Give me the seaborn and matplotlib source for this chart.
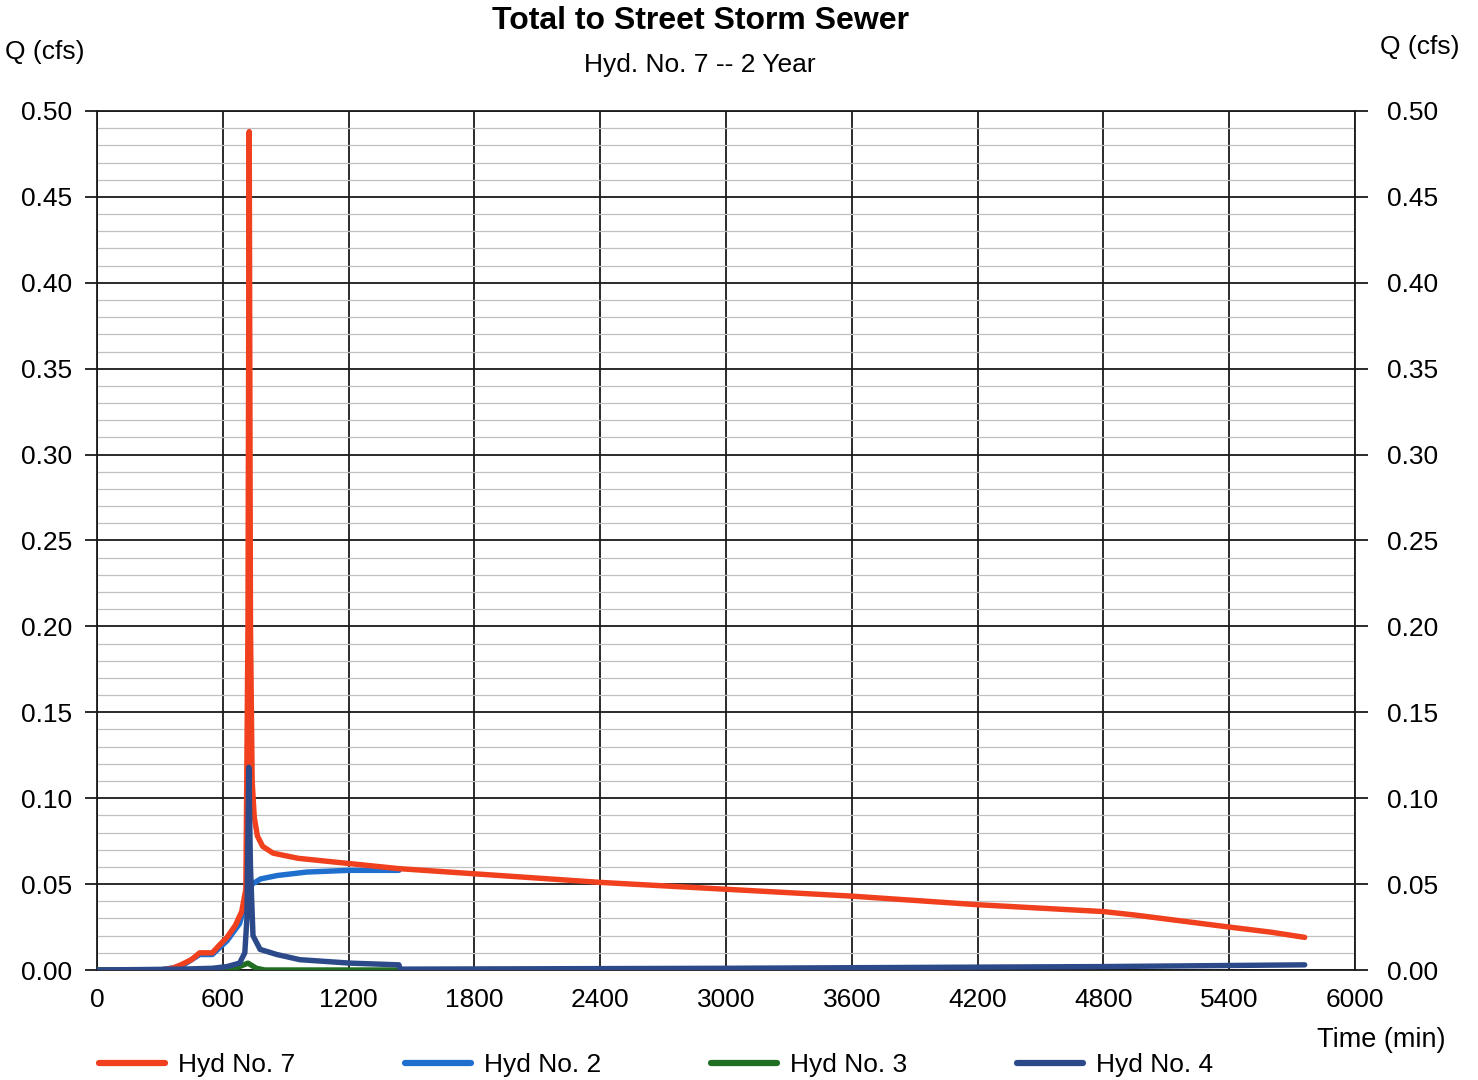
import numpy as np
import pandas as pd
import seaborn as sns
import matplotlib.pyplot as plt
from matplotlib.ticker import MultipleLocator

# values (time in min, Q in cfs)
t7 = [0, 300, 360, 400, 450, 490, 550, 580, 620, 660, 690, 710, 720, 726, 732, 740, 750, 765, 790,
      840, 960, 1200, 1440, 1800, 2400, 3000, 3600, 4200, 4800, 4950, 5400, 5600, 5760]
q7 = [0, 0, 0.001, 0.003, 0.006, 0.010, 0.010, 0.014, 0.019, 0.026, 0.034, 0.047, 0.20, 0.488, 0.20,
      0.11, 0.089, 0.078, 0.072, 0.068, 0.065, 0.062, 0.059, 0.056, 0.051, 0.047, 0.043, 0.038, 0.034,
      0.032, 0.025, 0.022, 0.019]

t2 = [0, 300, 400, 490, 550, 620, 680, 716, 740, 780, 860, 1000, 1200, 1440]
q2 = [0, 0, 0.002, 0.009, 0.009, 0.017, 0.027, 0.042, 0.050, 0.053, 0.055, 0.057, 0.058, 0.058]

t3 = [0, 600, 660, 700, 720, 760, 800, 1440]
q3 = [0, 0, 0.001, 0.003, 0.004, 0.001, 0, 0]

t4 = [0, 400, 550, 620, 680, 705, 715, 724, 732, 744, 778, 858, 968, 1207, 1440, 1446, 3000, 4800, 5760]
q4 = [0, 0.0005, 0.001, 0.002, 0.004, 0.010, 0.030, 0.118, 0.060, 0.020, 0.012, 0.009, 0.006, 0.004,
      0.003, 0.0005, 0.001, 0.002, 0.003]

names = ["Hyd No. 7", "Hyd No. 2", "Hyd No. 3", "Hyd No. 4"]
colors = ["#f0401e", "#1f6fcf", "#1f6e22", "#2c4a8a"]
zorders = [4, 3, 5, 6]

frames = []
for name, t, q in zip(names, [t7, t2, t3, t4], [q7, q2, q3, q4]):
    frames.append(pd.DataFrame({"time": t, "q": q, "hyd": name}))
df = pd.concat(frames)

sns.set_style("white")
plt.rcParams["font.family"] = ["Liberation Sans", "DejaVu Sans"]
plt.rcParams["text.color"] = "black"
plt.rcParams["xtick.color"] = "black"
plt.rcParams["ytick.color"] = "black"

fig = plt.figure(figsize=(14.78, 10.8), dpi=100)
ax = fig.add_axes([97 / 1478, 1 - 970 / 1080, (1355 - 97) / 1478, (970 - 111) / 1080])

sns.lineplot(data=df, x="time", y="q", hue="hyd", palette=dict(zip(names, colors)),
             hue_order=names, linewidth=3.9, ax=ax, legend=False, sort=False, estimator=None)
for line, z in zip(ax.lines, zorders):
    line.set_zorder(z)
    line.set_solid_capstyle("round")

ax.set_xlim(0, 6000)
ax.set_ylim(0, 0.5)
ax.xaxis.set_major_locator(MultipleLocator(600))
ax.yaxis.set_major_locator(MultipleLocator(0.05))
ax.yaxis.set_minor_locator(MultipleLocator(0.01))
ax.grid(which="major", color="#1a1a1a", linewidth=1.3)
ax.grid(which="minor", axis="y", color="#c0c0c0", linewidth=0.9)
ax.set_axisbelow(True)
for s in ax.spines.values():
    s.set_color("#1a1a1a")
    s.set_linewidth(1.3)
ax.set_xlabel("")
ax.set_ylabel("")
ax.tick_params(axis="x", length=0, pad=13, labelsize=19, labelcolor="black")
ax.tick_params(axis="y", which="major", length=9, width=1.3, color="#1a1a1a", pad=9, labelsize=19,
               left=True, labelcolor="black")
ax.tick_params(axis="y", which="minor", length=0)
ax.yaxis.set_major_formatter(plt.FuncFormatter(lambda v, p: f"{v:.2f}"))

ax2 = ax.twinx()
ax2.set_ylim(0, 0.5)
ax2.yaxis.set_major_locator(MultipleLocator(0.05))
ax2.yaxis.set_major_formatter(plt.FuncFormatter(lambda v, p: f"{v:.2f}"))
ax2.tick_params(axis="y", length=9, width=1.3, color="#1a1a1a", pad=14, labelsize=19, right=True,
                labelcolor="black")
for s in ax2.spines.values():
    s.set_visible(False)

fig.text(700 / 1478, 1 - 21 / 1080, "Total to Street Storm Sewer", ha="center", va="center",
         fontsize=23, fontweight="bold")
fig.text(700 / 1478, 1 - 65 / 1080, "Hyd. No. 7 -- 2 Year", ha="center", va="center", fontsize=19)
fig.text(45 / 1478, 1 - 52 / 1080, "Q (cfs)", ha="center", va="center", fontsize=19)
fig.text(1420 / 1478, 1 - 47 / 1080, "Q (cfs)", ha="center", va="center", fontsize=19)
fig.text(1381 / 1478, 1 - 1040 / 1080, "Time (min)", ha="center", va="center", fontsize=19.5)

handles = [plt.Line2D([], [], color=c, linewidth=4.5) for c in colors]
fig.legend(handles, names, loc="center left", bbox_to_anchor=(99 / 1478, 1 - 1065 / 1080), ncol=4,
           frameon=False, fontsize=19, handlelength=2.5, handletextpad=0.5, columnspacing=4.15,
           borderpad=0, borderaxespad=0)

fig.savefig("out.png", dpi=100)
